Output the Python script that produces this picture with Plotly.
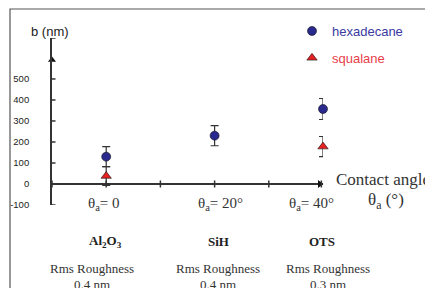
import plotly.graph_objects as go

# ---------------- data ----------------
hex_angle = [0, 20, 40]
hex_b = [130, 230, 357]
hex_err = [48, 48, 50]

squ_angle = [0, 40]
squ_b = [38, 178]
squ_err = [45, 48]

surface_angle = [0, 20, 40]
surface_names = ["Al<sub>2</sub>O<sub>3</sub>", "SiH", "OTS"]
roughness_title = ["Rms Roughness", "Rms Roughness", "Rms Roughness"]
roughness_value = ["0.4 nm", "0.4 nm", "0.3 nm"]
angle_labels = ["θ<sub>a</sub>= 0", "θ<sub>a</sub>= 20°", "θ<sub>a</sub>= 40°"]

y_tickvals = [-100, 0, 100, 200, 300, 400, 500]
y_ticktext = ["-100", "0", "100", "200", "300", "400", "500"]
y_extra_ticks = [695]
x_tickvals = [-10, 0, 10, 20, 30]
x_range = [-10, 40]
y_range = [-100, 695]
y_arrow = 590
x_arrow = 39.4

# ---------------- layout helpers ----------------
W, H = 433, 288
OFF = 8  # page body margin
L, R, T, B = 52, 323, 38, 205   # target plot-area edges in page pixels


def pxx(xp):
    return (xp - L) / (R - L)


def pxy(yp):
    return (B - yp) / (B - T)


AX = "#333333"
SERIF = "Liberation Serif, Times New Roman, serif"
SANS = "Liberation Sans, Arial, sans-serif"

fig = go.Figure()

fig.add_trace(go.Scatter(
    x=hex_angle, y=hex_b, mode="markers", name="hexadecane",
    legendgroup="h",
    marker=dict(symbol="circle", size=9, color="#2a2a8e", line=dict(color="#111", width=0.6)),
    error_y=dict(type="data", array=hex_err, color=AX, thickness=1.2, width=4),
    cliponaxis=False,
))
fig.add_trace(go.Scatter(
    x=squ_angle, y=squ_b, mode="markers",
    name="<span style='color:#e8404a'>squalane</span>",
    legendgroup="s",
    marker=dict(symbol="triangle-up", size=9, color="#e42222", line=dict(color="#111", width=0.6)),
    error_y=dict(type="data", array=squ_err, color=AX, thickness=1.2, width=4),
    cliponaxis=False,
))
# axis arrow heads
fig.add_trace(go.Scatter(
    x=[x_range[0]], y=[y_arrow], mode="markers", showlegend=False, hoverinfo="skip",
    marker=dict(symbol="triangle-up", size=7, color="#111"), cliponaxis=False,
))
fig.add_trace(go.Scatter(
    x=[x_arrow], y=[0], mode="markers", showlegend=False, hoverinfo="skip",
    marker=dict(symbol="triangle-right", size=7, color="#111"), cliponaxis=False,
))

shapes = []
# frame
shapes.append(dict(type="rect", xref="paper", yref="paper",
                   x0=pxx(10), x1=pxx(445), y0=pxy(9), y1=pxy(300),
                   line=dict(color="#555", width=1.2), fillcolor="rgba(0,0,0,0)", layer="below"))
# y ticks (crossing)
for v in y_tickvals + y_extra_ticks:
    shapes.append(dict(type="line", xref="x", yref="y", xsizemode="pixel", xanchor=x_range[0],
                       x0=-3.5, x1=3.5, y0=v, y1=v, line=dict(color=AX, width=1.5)))
# x ticks (crossing)
for v in x_tickvals + [x_range[1] - 0.3]:
    shapes.append(dict(type="line", xref="x", yref="y", ysizemode="pixel", yanchor=0,
                       y0=-3.5, y1=3.5, x0=v, x1=v, line=dict(color=AX, width=1.5)))


def note(text, xp, yp, size, family=SERIF, color="#333", xanchor="center"):
    return dict(text=text, x=pxx(xp), y=pxy(yp), xref="paper", yref="paper",
                xanchor=xanchor, yanchor="middle", showarrow=False,
                font=dict(family=family, size=size, color=color))


ann = []
ann.append(note("b (nm)", 50, 32, 13, family=SANS, color="#222"))
label_px = [104, 220, 311]
for lab, xp in zip(angle_labels, label_px):
    ann.append(note(lab, xp, 204, 15))
ann.append(note("Contact angles", 334, 179, 17, xanchor="left"))
ann.append(note("θ<sub>a</sub> (°)", 386, 201, 17))
bold_px = [105, 218, 322]
for name, xp in zip(surface_names, bold_px):
    ann.append(note("<b>" + name + "</b>", xp, 241, 13, color="#222"))
rough_px = [92, 218, 328]
for rt, rv, xp in zip(roughness_title, roughness_value, rough_px):
    ann.append(note(rt, xp, 268, 13))
    ann.append(note(rv, xp, 284, 13))

fig.update_layout(
    width=W, height=H,
    margin=dict(l=L - OFF, r=W - (R - OFF), t=T - OFF, b=H - (B - OFF), autoexpand=False),
    paper_bgcolor="white", plot_bgcolor="white",
    showlegend=True,
    legend=dict(x=pxx(292), y=pxy(16), xanchor="left", yanchor="top",
                font=dict(family=SANS, size=13, color="#3a3aa0"),
                bgcolor="rgba(0,0,0,0)", traceorder="grouped", tracegroupgap=7,
                itemwidth=30),
    xaxis=dict(range=x_range, showgrid=False, zeroline=False, showline=False,
               showticklabels=False, ticks=""),
    yaxis=dict(range=y_range, showgrid=False, zeroline=True, zerolinecolor=AX, zerolinewidth=1.8,
               showline=True, linecolor=AX, linewidth=1.8, ticks="",
               tickvals=y_tickvals, ticktext=y_ticktext, ticklabelstandoff=19,
               tickfont=dict(family=SANS, size=9.5, color="#222")),
    shapes=shapes, annotations=ann,
)

fig.write_html("out.html")
